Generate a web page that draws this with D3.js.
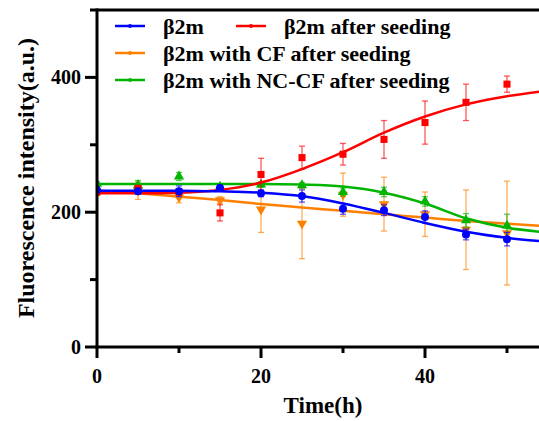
<!DOCTYPE html>
<html>
<head>
<meta charset="utf-8">
<script src="https://cdn.jsdelivr.net/npm/d3@7"></script>
<style>
  body { margin: 0; background: #fff; }
</style>
</head>
<body>
<svg id="chart"></svg>
<script>
// measured time points (h)
const times = [0, 5, 10, 15, 20, 25, 30, 35, 40, 45, 50];
const blueVals = [233, 231, 231, 236, 228, 224, 205, 203, 193, 167, 160];
const blueErr = [4, 4, 8, 4, 5, 9, 8, 8, 9, 8, 10];
const redVals = [230, 235, 230, 199, 256, 281, 286, 308, 333, 363, 390];
const redErr = [4, 5, 5, 12, 24, 17, 16, 28, 32, 27, 12];
const orangeVals = [230, 232, 222, 218, 204, 183, 226, 212, 197, 174, 169];
const orangeErr = [5, 13, 8, 5, 34, 52, 32, 40, 33, 59, 77];
const greenVals = [242, 240, 253, 238, 241, 240, 230, 230, 216, 188, 180];
const greenErr = [3, 7, 6, 4, 4, 4, 6, 7, 7, 10, 17];

// fitted curves
const fitTimes = [0, 5, 10, 15, 20, 25, 30, 35, 40, 45, 50, 54];
const blueFit = [232, 232, 232, 231, 229, 224, 213, 199, 184, 171, 162, 157];
const redFit = [228, 228, 229, 233, 244, 264, 289, 318, 342, 360, 372, 379];
const orangeFit = [232, 228, 223, 218, 212, 207, 202, 197, 192, 187, 183, 180];
const greenFit = [242, 242, 242, 242, 242, 241, 238, 229, 213, 191, 177, 171];

const seriesNames = ['β2m', 'β2m after seeding', 'β2m with CF after seeding', 'β2m with NC-CF after seeding'];
const xTicks = [0, 20, 40], xMinor = [10, 30, 50];
const yTicks = [0, 200, 400], yMinor = [100, 300];

const W = 539, H = 421;
const FONT = 'Liberation Serif';
const x = d3.scaleLinear().domain([0, 54]).range([97, 97 + 8.2 * 54]);
const y = d3.scaleLinear().domain([0, 500]).range([347, 10]);

const svg = d3.select('#chart').attr('width', W).attr('height', H);

const series = [
  { name: seriesNames[2], color: '#ff8000', vals: orangeVals, err: orangeErr, fit: orangeFit, shape: 'down' },
  { name: seriesNames[3], color: '#00b400', vals: greenVals, err: greenErr, fit: greenFit, shape: 'up' },
  { name: seriesNames[1], color: '#ff0000', vals: redVals, err: redErr, fit: redFit, shape: 'square' },
  { name: seriesNames[0], color: '#0000ff', vals: blueVals, err: blueErr, fit: blueFit, shape: 'circle' }
];

const symbolFor = {
  circle: d3.symbol().type(d3.symbolCircle).size(50),
  square: d3.symbol().type(d3.symbolSquare).size(50),
  up: d3.symbol().type(d3.symbolTriangle).size(45),
  down: d3.symbol().type(d3.symbolTriangle).size(45)
};

svg.append('clipPath').attr('id', 'plot')
  .append('rect').attr('x', 97).attr('y', 10).attr('width', W - 97).attr('height', 337);

const plot = svg.append('g').attr('clip-path', 'url(#plot)');
const line = d3.line().x((d) => x(d[0])).y((d) => y(d[1])).curve(d3.curveMonotoneX);

series.forEach(function (s) {
  const g = plot.append('g');
  const pts = times.map((t, i) => ({ t: t, v: s.vals[i], e: s.err[i] }));
  // error bars
  const eb = g.selectAll('.eb').data(pts).enter().append('g')
    .attr('stroke', s.color).attr('stroke-opacity', 0.65).attr('stroke-width', 1.3);
  eb.append('line').attr('x1', (d) => x(d.t)).attr('x2', (d) => x(d.t))
    .attr('y1', (d) => y(d.v - d.e)).attr('y2', (d) => y(d.v + d.e));
  eb.append('line').attr('x1', (d) => x(d.t) - 3).attr('x2', (d) => x(d.t) + 3)
    .attr('y1', (d) => y(d.v - d.e)).attr('y2', (d) => y(d.v - d.e));
  eb.append('line').attr('x1', (d) => x(d.t) - 3).attr('x2', (d) => x(d.t) + 3)
    .attr('y1', (d) => y(d.v + d.e)).attr('y2', (d) => y(d.v + d.e));
  // fit curve
  g.append('path').datum(fitTimes.map((t, i) => [t, s.fit[i]]))
    .attr('d', line).attr('fill', 'none').attr('stroke', s.color).attr('stroke-width', 2.5);
  // markers
  g.selectAll('.m').data(pts).enter().append('path')
    .attr('d', symbolFor[s.shape]).attr('fill', s.color)
    .attr('transform', (d) => `translate(${x(d.t)},${y(d.v)})${s.shape === 'down' ? ' rotate(180)' : ''}`);
});

// axes
const axes = svg.append('g').attr('stroke', '#000').attr('stroke-width', 3);
axes.append('line').attr('x1', 90).attr('x2', W).attr('y1', y(500)).attr('y2', y(500));
axes.append('line').attr('x1', x(0)).attr('x2', x(0)).attr('y1', y(500) - 1.5).attr('y2', y(0) + 1.5);
axes.append('line').attr('x1', x(0) - 1.5).attr('x2', W).attr('y1', y(0)).attr('y2', y(0));
axes.selectAll('.yt').data(yTicks).enter().append('line')
  .attr('x1', 85).attr('x2', x(0)).attr('y1', (d) => y(d)).attr('y2', (d) => y(d));
axes.selectAll('.ym').data(yMinor).enter().append('line')
  .attr('x1', 90).attr('x2', x(0)).attr('y1', (d) => y(d)).attr('y2', (d) => y(d));
axes.selectAll('.xt').data(xTicks).enter().append('line')
  .attr('x1', (d) => x(d)).attr('x2', (d) => x(d)).attr('y1', y(0)).attr('y2', 358);
axes.selectAll('.xm').data(xMinor).enter().append('line')
  .attr('x1', (d) => x(d)).attr('x2', (d) => x(d)).attr('y1', y(0)).attr('y2', 353);

function label(sel) {
  return sel.attr('font-family', FONT).attr('font-weight', 'bold').attr('fill', '#000');
}

label(svg.selectAll('.ytl').data(yTicks).enter().append('text'))
  .attr('x', 81).attr('y', (d) => y(d)).attr('dy', '0.35em')
  .attr('text-anchor', 'end').attr('font-size', 20).text((d) => d);
label(svg.selectAll('.xtl').data(xTicks).enter().append('text'))
  .attr('x', (d) => x(d)).attr('y', 383)
  .attr('text-anchor', 'middle').attr('font-size', 20).text((d) => d);

label(svg.append('text')).attr('x', 323).attr('y', 413).attr('text-anchor', 'middle')
  .attr('font-size', 23).text('Time(h)');
label(svg.append('text')).attr('transform', 'translate(34,178) rotate(-90)').attr('text-anchor', 'middle')
  .attr('font-size', 24).text('Fluorescence intensity(a.u.)');

// legend
const legendItems = [
  { s: series[3], x: 115, y: 26 },
  { s: series[2], x: 236, y: 26 },
  { s: series[0], x: 115, y: 53 },
  { s: series[1], x: 115, y: 80 }
];
const lg = svg.selectAll('.lg').data(legendItems).enter().append('g');
lg.append('line').attr('x1', (d) => d.x).attr('x2', (d) => d.x + 30)
  .attr('y1', (d) => d.y).attr('y2', (d) => d.y)
  .attr('stroke', (d) => d.s.color).attr('stroke-width', 2.5);
lg.append('path').attr('d', d3.symbol().type(d3.symbolCircle).size(12))
  .attr('fill', (d) => d.s.color)
  .attr('transform', (d) => `translate(${d.x + 15},${d.y})`);
label(lg.append('text')).attr('x', (d) => d.x + 48).attr('y', (d) => d.y).attr('dy', '0.35em')
  .attr('font-size', 22).text((d) => d.s.name);
</script>
</body>
</html>
